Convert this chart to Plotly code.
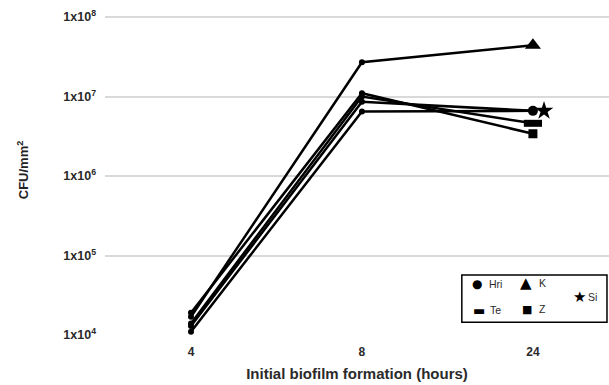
import plotly.graph_objects as go

# ---- data ----
hours = ["4", "8", "24"]
series_names = ["Hri", "K", "Si", "Te", "Z"]
hri = [1.1e4, 6.5e6, 6.6e6]
k = [1.7e4, 2.7e7, 4.4e7]
si = [1.3e4, 8.6e6, 6.6e6]
te = [1.4e4, 1.0e7, 4.6e6]
z = [1.9e4, 1.1e7, 3.4e6]
y_tickvals = [1e4, 1e5, 1e6, 1e7, 1e8]
y_ticktext = ["1x10<sup>4</sup>", "1x10<sup>5</sup>", "1x10<sup>6</sup>",
              "1x10<sup>7</sup>", "1x10<sup>8</sup>"]

FONT = "Arial, Liberation Sans, sans-serif"
TXT = "#2a2a2a"
xs = list(range(len(hours)))

fig = go.Figure()

end_style = {
    "Hri": dict(symbol="circle", size=10, lw=0, dx=0.0),
    "K": dict(symbol="triangle-up", size=14, lw=0, dx=0.0),
    "Si": dict(symbol="star", size=14, lw=0, dx=0.065),  # dodged right of Hri
    "Te": dict(symbol="line-ew", size=13, lw=7, dx=0.0),
    "Z": dict(symbol="square", size=9, lw=0, dx=0.0),
}
data = {"Hri": hri, "K": k, "Si": si, "Te": te, "Z": z}

for name in series_names:
    vals = data[name]
    fig.add_trace(go.Scatter(
        x=xs[:-1] + [xs[-1]], y=vals, mode="lines",
        line=dict(color="black", width=2.5),
        showlegend=False, cliponaxis=False, name=name,
    ))
    fig.add_trace(go.Scatter(
        x=xs[:-1], y=vals[:-1], mode="markers",
        marker=dict(symbol="circle", size=6, color="black"),
        showlegend=False, cliponaxis=False, name=name,
    ))
for name in series_names:
    vals = data[name]
    es = end_style[name]
    fig.add_trace(go.Scatter(
        x=[xs[-1] + es["dx"]], y=[vals[-1]], mode="markers",
        marker=dict(symbol=es["symbol"], size=es["size"], color="#000000",
                    opacity=1, line=dict(color="#000000", width=es["lw"])),
        showlegend=False, cliponaxis=False, name=name,
    ))

# ---- custom legend ----
lx0, lx1, ly0, ly1 = 0.708, 0.996, 0.039, 0.182
fig.add_shape(type="rect", xref="paper", yref="paper",
              x0=lx0, x1=lx1, y0=ly0, y1=ly1,
              line=dict(color="black", width=1.5), fillcolor="white")

def leg(sym, sx, sy, label, tx, size):
    fig.add_annotation(xref="paper", yref="paper", x=sx, y=sy, text=sym,
                       showarrow=False, font=dict(size=size, color="black", family="DejaVu Sans"),
                       xanchor="center", yanchor="middle")
    fig.add_annotation(xref="paper", yref="paper", x=tx, y=sy, text=label,
                       showarrow=False, font=dict(size=10.5, color=TXT, family=FONT),
                       xanchor="left", yanchor="middle")

def px2x(p):
    return (p - 105) / 504

def py2y(p):
    return (335 - p) / 330

leg("●", px2x(477), py2y(284), "Hri", px2x(487), 12)
leg("▲", px2x(526), py2y(283), "K", px2x(537), 15)
leg("▬", px2x(479), py2y(310), "Te", px2x(488), 13)
leg("■", px2x(527), py2y(309), "Z", px2x(537), 11)
leg("★", px2x(579), py2y(297), "Si", px2x(586), 15)

fig.update_layout(
    width=609, height=385,
    margin=dict(l=105, r=0, t=5, b=50, autoexpand=False),
    paper_bgcolor="white", plot_bgcolor="white",
    font=dict(family=FONT, color=TXT),
    hovermode=False,
    xaxis=dict(
        tickmode="array", tickvals=xs, ticktext=[f"<b>{h}</b>" for h in hours],
        range=[-0.503, 2.445], showgrid=False, zeroline=False, showline=False,
        ticks="", tickfont=dict(size=12, color=TXT), automargin=False,
        ticklabelstandoff=8,
        title=dict(text="<b>Initial biofilm formation (hours)</b>",
                   font=dict(size=15, color=TXT), standoff=10),
    ),
    yaxis=dict(
        type="log", range=[4, 8.151], tickmode="array",
        tickvals=y_tickvals, ticktext=[f"<b>{t}</b>" for t in y_ticktext],
        showgrid=True, gridcolor="#d9d9d9", gridwidth=1.5,
        zeroline=False, showline=False, ticks="", ticklabelstandoff=8,
        tickfont=dict(size=12.5, color=TXT), automargin=False,
        title=dict(text="<b>CFU/mm<sup>2</sup></b>",
                   font=dict(size=13, color="#222222"), standoff=31),
    ),
)

fig.write_html("out.html", config={"displayModeBar": False},
               post_script="document.body.style.margin='0';document.body.style.overflow='hidden';")
